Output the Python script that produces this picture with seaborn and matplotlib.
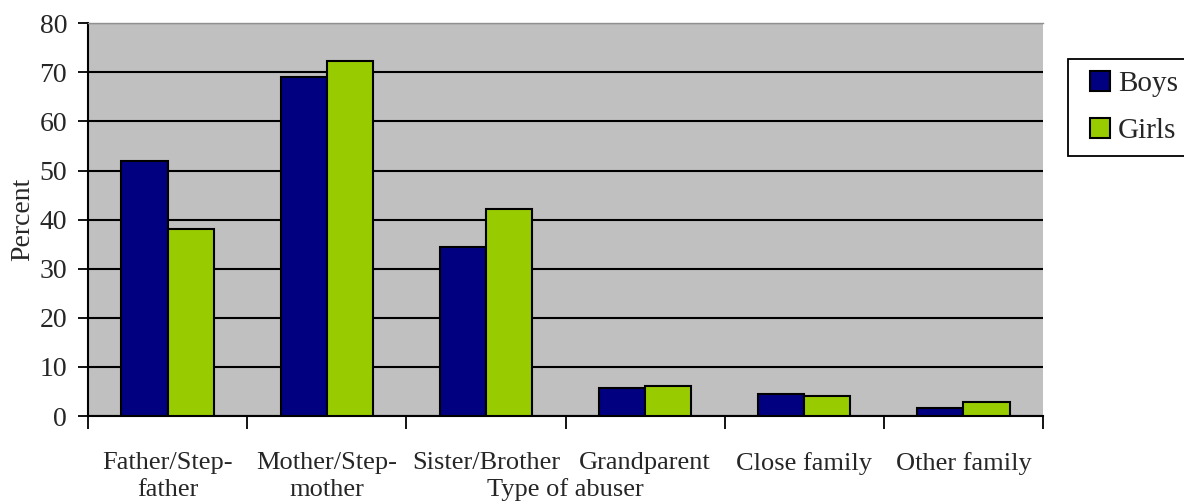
import matplotlib
matplotlib.use("Agg")
import matplotlib.pyplot as plt
from matplotlib.patches import Patch, Rectangle
from matplotlib.legend_handler import HandlerPatch
from matplotlib.ticker import FixedLocator
import numpy as np
import pandas as pd
import seaborn as sns

# Share of abused children by type of abuser
categories = ["Father/Step-\nfather", "Mother/Step-\nmother", "Sister/Brother",
              "Grandparent", "Close family", "Other family"]
boys = [52.0, 69.0, 34.5, 5.7, 4.5, 1.6]
girls = [38.1, 72.3, 42.1, 6.1, 4.0, 2.85]
groups = ["Boys", "Girls"]
colors = {"Boys": "#000080", "Girls": "#99CC00"}

df = pd.DataFrame({
    "abuser": categories * 2,
    "group": ["Boys"] * len(categories) + ["Girls"] * len(categories),
    "percent": boys + girls,
})

sns.set_style("white")
plt.rcParams["font.family"] = ["Liberation Serif", "DejaVu Serif"]
FS = 19

fig = plt.figure(figsize=(11.84, 5.04), dpi=100)
ax = fig.add_axes([88 / 1184, 1 - 416 / 504, (1043 - 88) / 1184, (416 - 23.3) / 504])
ax.set_facecolor("#C0C0C0")

sns.barplot(data=df, x="abuser", y="percent", hue="group", order=categories,
            hue_order=groups, palette=colors, saturation=1, width=0.58, gap=0,
            edgecolor="black", linewidth=1.5, legend=False, ax=ax, zorder=3)

ax.set_xlim(-0.5, len(categories) - 0.5)
ax.set_ylim(0, 80)
ax.set_yticks(range(0, 81, 10))
ax.yaxis.grid(True, color="black", linewidth=1.5, zorder=0)
ax.set_axisbelow(True)

for side in ("left", "bottom"):
    ax.spines[side].set_color("black")
    ax.spines[side].set_linewidth(1.5)
ax.spines["right"].set_visible(False)
ax.spines["top"].set_color("#909090")
ax.spines["top"].set_linewidth(1.0)

ax.tick_params(axis="y", which="major", direction="out", length=7, width=1.3,
               color="black", labelsize=FS + 1, pad=8, left=True)
ax.tick_params(axis="x", which="major", length=0, labelsize=FS, pad=26)
ax.xaxis.set_minor_locator(FixedLocator(np.arange(-0.5, len(categories), 1.0)))
ax.tick_params(axis="x", which="minor", direction="out", length=9, width=1.3,
               color="black", bottom=True)
for lbl in ax.get_xticklabels():
    lbl.set_linespacing(1.3)
    lbl.set_verticalalignment("top")

ax.set_xlabel("Type of abuser", fontsize=FS, va="center")
ax.xaxis.set_label_coords(0.5, -(490 - 416) / 392.7)
ax.set_ylabel("Percent", fontsize=FS + 1, va="center")
ax.yaxis.set_label_coords(-(88 - 23) / 955, 0.5)


def square_handle(legend, orig_handle, xdescent, ydescent, width, height, fontsize):
    side = height
    return Rectangle((-xdescent + width - side, -ydescent), side, side)


handles = [Patch(facecolor=colors[g], edgecolor="black", linewidth=1.5) for g in groups]
leg = fig.legend(handles, groups, loc="upper left",
                 bbox_to_anchor=(1067.7 / 1184, 1 - 59.3 / 504),
                 fontsize=FS + 2, frameon=True, fancybox=False, framealpha=1,
                 edgecolor="black", handlelength=1.05, handleheight=0.7,
                 handletextpad=0.28, borderpad=0.4, labelspacing=0.7,
                 borderaxespad=0,
                 handler_map={Patch: HandlerPatch(patch_func=square_handle)})
leg.get_frame().set_linewidth(1.3)

fig.savefig("out.png", dpi=100)
